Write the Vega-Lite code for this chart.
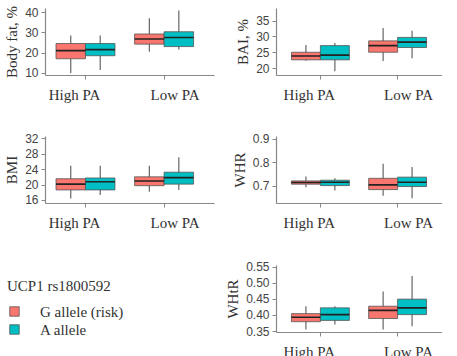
{
  "$schema": "https://vega.github.io/schema/vega-lite/v6.json",
  "padding": {"left": 4, "top": 5, "right": 0, "bottom": 0},
  "background": "white",
  "datasets": {
    "boxes": [
      {"measure": "Body fat", "pa": "High PA", "allele": "G allele (risk)", "lo": 10, "q1": 17, "med": 21, "q3": 24.5, "hi": 28.5},
      {"measure": "Body fat", "pa": "High PA", "allele": "A allele", "lo": 11.5, "q1": 18.5, "med": 21.5, "q3": 24.5, "hi": 28.5},
      {"measure": "Body fat", "pa": "Low PA", "allele": "G allele (risk)", "lo": 20.5, "q1": 24.2, "med": 26.7, "q3": 29.2, "hi": 37},
      {"measure": "Body fat", "pa": "Low PA", "allele": "A allele", "lo": 21.5, "q1": 23, "med": 27.5, "q3": 30.3, "hi": 40.8},
      {"measure": "BAI", "pa": "High PA", "allele": "G allele (risk)", "lo": 22.3, "q1": 22.6, "med": 23.8, "q3": 25, "hi": 27.3},
      {"measure": "BAI", "pa": "High PA", "allele": "A allele", "lo": 19, "q1": 22.6, "med": 24.1, "q3": 27.1, "hi": 27.9},
      {"measure": "BAI", "pa": "Low PA", "allele": "G allele (risk)", "lo": 22.2, "q1": 25, "med": 27.1, "q3": 28.6, "hi": 32.7},
      {"measure": "BAI", "pa": "Low PA", "allele": "A allele", "lo": 23.1, "q1": 26.5, "med": 28.2, "q3": 29.7, "hi": 31.8},
      {"measure": "BMI", "pa": "High PA", "allele": "G allele (risk)", "lo": 16.4, "q1": 18.6, "med": 20.1, "q3": 21.5, "hi": 24.9},
      {"measure": "BMI", "pa": "High PA", "allele": "A allele", "lo": 17.3, "q1": 18.6, "med": 20.7, "q3": 21.7, "hi": 24.9},
      {"measure": "BMI", "pa": "Low PA", "allele": "G allele (risk)", "lo": 18.1, "q1": 19.7, "med": 20.9, "q3": 22, "hi": 24.9},
      {"measure": "BMI", "pa": "Low PA", "allele": "A allele", "lo": 18.6, "q1": 20.1, "med": 21.8, "q3": 23.2, "hi": 27.1},
      {"measure": "WHR", "pa": "High PA", "allele": "G allele (risk)", "lo": 0.693, "q1": 0.706, "med": 0.713, "q3": 0.72, "hi": 0.739},
      {"measure": "WHR", "pa": "High PA", "allele": "A allele", "lo": 0.679, "q1": 0.7, "med": 0.714, "q3": 0.723, "hi": 0.731},
      {"measure": "WHR", "pa": "Low PA", "allele": "G allele (risk)", "lo": 0.657, "q1": 0.683, "med": 0.703, "q3": 0.731, "hi": 0.793},
      {"measure": "WHR", "pa": "Low PA", "allele": "A allele", "lo": 0.646, "q1": 0.696, "med": 0.714, "q3": 0.736, "hi": 0.779},
      {"measure": "WHtR", "pa": "High PA", "allele": "G allele (risk)", "lo": 0.355, "q1": 0.379, "med": 0.393, "q3": 0.404, "hi": 0.427},
      {"measure": "WHtR", "pa": "High PA", "allele": "A allele", "lo": 0.37, "q1": 0.383, "med": 0.401, "q3": 0.422, "hi": 0.427},
      {"measure": "WHtR", "pa": "Low PA", "allele": "G allele (risk)", "lo": 0.355, "q1": 0.389, "med": 0.414, "q3": 0.427, "hi": 0.473},
      {"measure": "WHtR", "pa": "Low PA", "allele": "A allele", "lo": 0.365, "q1": 0.401, "med": 0.422, "q3": 0.449, "hi": 0.521}
    ]
  },
  "data": {"name": "boxes"},
  "hconcat": [
    {
      "vconcat": [
        {
          "width": 169, "height": 67,
          "transform": [{"filter": "datum.measure === 'Body fat'"}],
          "encoding": {
            "x": {"field": "pa", "type": "nominal", "scale": {"paddingInner": 0.25, "paddingOuter": 0.2, "align": 0.35}},
            "xOffset": {"field": "allele", "type": "nominal", "sort": ["G allele (risk)", "A allele"]}
          },
          "layer": [
            {"mark": {"type": "rule", "color": "#666", "strokeWidth": 1.2},
             "encoding": {"y": {"field": "lo", "type": "quantitative", "scale": {"domain": [9, 42], "nice": false, "zero": false}, "axis": {"title": "Body fat, %", "values": [10, 20, 30, 40]}}, "y2": {"field": "hi"}}},
            {"mark": {"type": "bar", "stroke": "#555", "strokeWidth": 0.8},
             "encoding": {"y": {"field": "q1", "type": "quantitative", "axis": {"title": "Body fat, %", "values": [10, 20, 30, 40]}}, "y2": {"field": "q3"}, "color": {"field": "allele", "type": "nominal", "scale": {"domain": ["G allele (risk)", "A allele"], "range": ["#F8766D", "#00BFC4"]}, "title": "UCP1 rs1800592"}}},
            {"mark": {"type": "bar", "stroke": "#222", "strokeWidth": 1.6, "fill": null},
             "encoding": {"y": {"field": "med", "type": "quantitative", "axis": {"title": "Body fat, %", "values": [10, 20, 30, 40]}}, "y2": {"field": "med"}}}
          ]
        },
        {
          "width": 169, "height": 67,
          "transform": [{"filter": "datum.measure === 'BMI'"}],
          "encoding": {
            "x": {"field": "pa", "type": "nominal", "scale": {"paddingInner": 0.25, "paddingOuter": 0.2, "align": 0.35}},
            "xOffset": {"field": "allele", "type": "nominal", "sort": ["G allele (risk)", "A allele"]}
          },
          "layer": [
            {"mark": {"type": "rule", "color": "#666", "strokeWidth": 1.2},
             "encoding": {"y": {"field": "lo", "type": "quantitative", "scale": {"domain": [15.2, 32.6], "nice": false, "zero": false}, "axis": {"title": "BMI", "values": [16, 20, 24, 28, 32]}}, "y2": {"field": "hi"}}},
            {"mark": {"type": "bar", "stroke": "#555", "strokeWidth": 0.8},
             "encoding": {"y": {"field": "q1", "type": "quantitative", "axis": {"title": "BMI", "values": [16, 20, 24, 28, 32]}}, "y2": {"field": "q3"}, "color": {"field": "allele", "type": "nominal", "scale": {"domain": ["G allele (risk)", "A allele"], "range": ["#F8766D", "#00BFC4"]}, "title": "UCP1 rs1800592"}}},
            {"mark": {"type": "bar", "stroke": "#222", "strokeWidth": 1.6, "fill": null},
             "encoding": {"y": {"field": "med", "type": "quantitative", "axis": {"title": "BMI", "values": [16, 20, 24, 28, 32]}}, "y2": {"field": "med"}}}
          ]
        }
      ],
      "spacing": 30,
      "resolve": {"scale": {"y": "independent", "x": "independent", "xOffset": "independent"}}
    },
    {
      "vconcat": [
        {
          "width": 166, "height": 67,
          "transform": [{"filter": "datum.measure === 'BAI'"}],
          "encoding": {
            "x": {"field": "pa", "type": "nominal", "scale": {"paddingInner": 0.25, "paddingOuter": 0.2, "align": 0.5}},
            "xOffset": {"field": "allele", "type": "nominal", "sort": ["G allele (risk)", "A allele"]}
          },
          "layer": [
            {"mark": {"type": "rule", "color": "#666", "strokeWidth": 1.2},
             "encoding": {"y": {"field": "lo", "type": "quantitative", "scale": {"domain": [17.8, 39], "nice": false, "zero": false}, "axis": {"title": "BAI, %", "values": [20, 25, 30, 35]}}, "y2": {"field": "hi"}}},
            {"mark": {"type": "bar", "stroke": "#555", "strokeWidth": 0.8},
             "encoding": {"y": {"field": "q1", "type": "quantitative", "axis": {"title": "BAI, %", "values": [20, 25, 30, 35]}}, "y2": {"field": "q3"}, "color": {"field": "allele", "type": "nominal", "scale": {"domain": ["G allele (risk)", "A allele"], "range": ["#F8766D", "#00BFC4"]}, "title": "UCP1 rs1800592"}}},
            {"mark": {"type": "bar", "stroke": "#222", "strokeWidth": 1.6, "fill": null},
             "encoding": {"y": {"field": "med", "type": "quantitative", "axis": {"title": "BAI, %", "values": [20, 25, 30, 35]}}, "y2": {"field": "med"}}}
          ]
        },
        {
          "width": 166, "height": 67,
          "transform": [{"filter": "datum.measure === 'WHR'"}],
          "encoding": {
            "x": {"field": "pa", "type": "nominal", "scale": {"paddingInner": 0.25, "paddingOuter": 0.2, "align": 0.5}},
            "xOffset": {"field": "allele", "type": "nominal", "sort": ["G allele (risk)", "A allele"]}
          },
          "layer": [
            {"mark": {"type": "rule", "color": "#666", "strokeWidth": 1.2},
             "encoding": {"y": {"field": "lo", "type": "quantitative", "scale": {"domain": [0.626, 0.911], "nice": false, "zero": false}, "axis": {"title": "WHR", "values": [0.7, 0.8, 0.9], "format": ".1f"}}, "y2": {"field": "hi"}}},
            {"mark": {"type": "bar", "stroke": "#555", "strokeWidth": 0.8},
             "encoding": {"y": {"field": "q1", "type": "quantitative", "axis": {"title": "WHR", "values": [0.7, 0.8, 0.9], "format": ".1f"}}, "y2": {"field": "q3"}, "color": {"field": "allele", "type": "nominal", "scale": {"domain": ["G allele (risk)", "A allele"], "range": ["#F8766D", "#00BFC4"]}, "title": "UCP1 rs1800592"}}},
            {"mark": {"type": "bar", "stroke": "#222", "strokeWidth": 1.6, "fill": null},
             "encoding": {"y": {"field": "med", "type": "quantitative", "axis": {"title": "WHR", "values": [0.7, 0.8, 0.9], "format": ".1f"}}, "y2": {"field": "med"}}}
          ]
        },
        {
          "width": 166, "height": 67,
          "transform": [{"filter": "datum.measure === 'WHtR'"}],
          "encoding": {
            "x": {"field": "pa", "type": "nominal", "scale": {"paddingInner": 0.25, "paddingOuter": 0.2, "align": 0.5}},
            "xOffset": {"field": "allele", "type": "nominal", "sort": ["G allele (risk)", "A allele"]}
          },
          "layer": [
            {"mark": {"type": "rule", "color": "#666", "strokeWidth": 1.2},
             "encoding": {"y": {"field": "lo", "type": "quantitative", "scale": {"domain": [0.347, 0.555], "nice": false, "zero": false}, "axis": {"title": "WHtR", "values": [0.35, 0.4, 0.45, 0.5, 0.55], "format": ".2f"}}, "y2": {"field": "hi"}}},
            {"mark": {"type": "bar", "stroke": "#555", "strokeWidth": 0.8},
             "encoding": {"y": {"field": "q1", "type": "quantitative", "axis": {"title": "WHtR", "values": [0.35, 0.4, 0.45, 0.5, 0.55], "format": ".2f"}}, "y2": {"field": "q3"}, "color": {"field": "allele", "type": "nominal", "scale": {"domain": ["G allele (risk)", "A allele"], "range": ["#F8766D", "#00BFC4"]}, "title": "UCP1 rs1800592"}}},
            {"mark": {"type": "bar", "stroke": "#222", "strokeWidth": 1.6, "fill": null},
             "encoding": {"y": {"field": "med", "type": "quantitative", "axis": {"title": "WHtR", "values": [0.35, 0.4, 0.45, 0.5, 0.55], "format": ".2f"}}, "y2": {"field": "med"}}}
          ]
        }
      ],
      "spacing": 30,
      "resolve": {"scale": {"y": "independent", "x": "independent", "xOffset": "independent"}}
    }
  ],
  "spacing": 11,
  "resolve": {"scale": {"y": "independent", "x": "independent", "xOffset": "independent", "color": "shared"}, "legend": {"color": "shared"}},
  "config": {
    "view": {"stroke": null},
    "axis": {"grid": false, "domainColor": "#888", "tickColor": "#888", "domainWidth": 1.2, "tickSize": 4, "labelFont": "Liberation Sans", "labelFontSize": 12, "labelColor": "#444", "titleFont": "Liberation Serif", "titleFontSize": 15, "titleFontWeight": "normal", "titleColor": "#333", "labelPadding": 3, "titlePadding": 5, "labelOverlap": false},
    "axisX": {"title": null, "labelFont": "Liberation Serif", "labelFontSize": 15, "labelColor": "#333", "labelAngle": 0, "labelPadding": 8, "labelOffset": {"condition": {"test": "datum.value === 'High PA'", "value": -11}, "value": 11}},
    "legend": {"orient": "none", "legendX": -38, "legendY": 271, "titleFont": "Liberation Serif", "titleFontSize": 15, "titleFontWeight": "normal", "titleColor": "#333", "labelFont": "Liberation Serif", "labelFontSize": 15, "labelColor": "#333", "symbolType": "square", "symbolSize": 90, "symbolStrokeColor": "#555", "symbolStrokeWidth": 0.8, "labelOffset": 18, "rowPadding": 2, "titlePadding": 10}
  }
}
